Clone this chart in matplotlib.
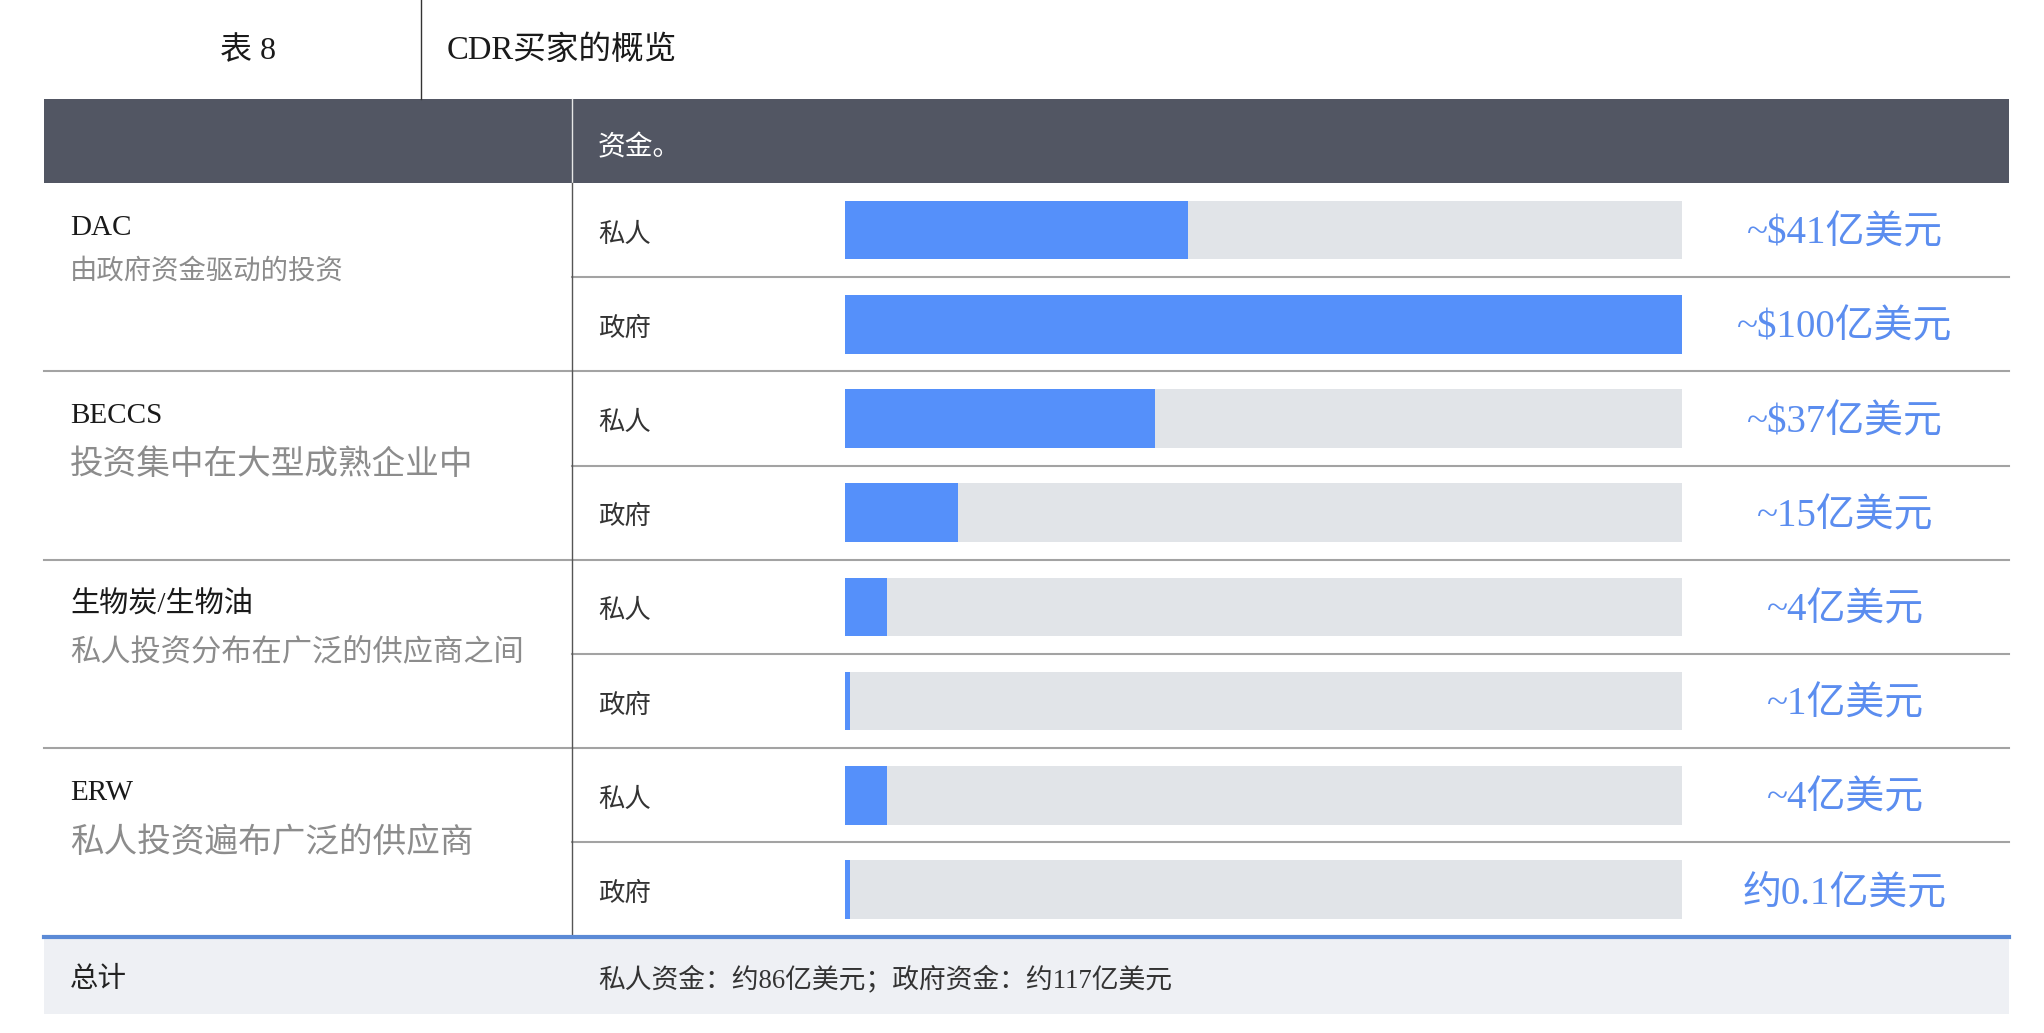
import matplotlib
matplotlib.use("Agg")
import matplotlib.pyplot as plt
from matplotlib.patches import Rectangle

# data
table_no    = "表 8"
title       = "CDR买家的概览"
col_header  = "资金。"
groups      = ["DAC", "BECCS", "生物炭/生物油", "ERW"]
group_notes = ["由政府资金驱动的投资", "投资集中在大型成熟企业中",
               "私人投资分布在广泛的供应商之间", "私人投资遍布广泛的供应商"]
row_kinds   = ["私人", "政府"] * 4
bar_pct     = [41, 100, 37, 13.5, 5, 0.6, 5, 0.6]   # bar fill, % of track
value_text  = ["~$41亿美元", "~$100亿美元", "~$37亿美元", "~15亿美元",
               "~4亿美元", "~1亿美元", "~4亿美元", "约0.1亿美元"]
total_label = "总计"
total_text  = "私人资金：约86亿美元；政府资金：约117亿美元"

# style
W, H       = 2044, 1033
SERIF_CJK  = ["Liberation Serif", "Noto Sans CJK SC"]
CJK        = ["Noto Sans CJK SC", "DejaVu Sans"]
DARK       = "#525663"
BLUE       = "#5590fa"
TRACK      = "#e1e4e8"
VAL_BLUE   = "#5b8def"
SEP        = "#a3a3a3"
NOTE_GREY  = "#8c8c8c"
note_sizes = [19.7, 24.2, 21.8, 24.2]
note_dy    = [88, 93, 92, 94]
DY         = 4   # nudge text down to sit like the reference

left, right  = 44, 2009
mid_x        = 572
head_top     = 99
head_bot     = 183
row_h        = 94.2
table_bot    = head_bot + row_h * len(bar_pct)
total_bot    = 1014
bar_l, bar_r = 845, 1682

fig = plt.figure(figsize=(W / 100, H / 100), dpi=100)
ax = fig.add_axes([0, 0, 1, 1])
ax.set_xlim(0, W)
ax.set_ylim(H, 0)
ax.axis("off")

# title row
ax.text(248, 47 + DY, table_no, family=SERIF_CJK, fontsize=23, ha="center", va="center",
        color="#1a1a1a", fontweight="light")
ax.plot([421, 421], [0, head_top], color="#333333", lw=1)
ax.text(447, 47 + DY, title, family=SERIF_CJK, fontsize=23.5, ha="left", va="center",
        color="#1a1a1a", fontweight="light")

# header band
ax.add_patch(Rectangle((left, head_top), right - left, head_bot - head_top, color=DARK, lw=0))
ax.plot([mid_x, mid_x], [head_top, head_bot], color="#e6e6e6", lw=1)
ax.text(598, 143 + DY, col_header, family=CJK, fontsize=20, ha="left", va="center",
        color="white", fontweight="light")

# row lines and labels
for i, kind in enumerate(row_kinds):
    y0 = head_bot + i * row_h
    ax.text(598, y0 + row_h / 2 + DY, kind, family=CJK, fontsize=19, ha="left", va="center",
            color="#333333", fontweight="light")
    if i > 0:
        x0 = left if i % 2 == 0 else mid_x
        ax.plot([x0, right], [y0, y0], color=SEP, lw=1.5)

for g, (name, note) in enumerate(zip(groups, group_notes)):
    y0 = head_bot + g * 2 * row_h
    ax.text(70, y0 + 41 + DY, name, family=SERIF_CJK, fontsize=21, ha="left", va="center",
            color="#1a1a1a", fontweight="light")
    ax.text(70, y0 + note_dy[g], note, family=CJK, fontsize=note_sizes[g], ha="left", va="center",
            color=NOTE_GREY, fontweight="light")

ax.plot([mid_x, mid_x], [head_bot, table_bot], color="#555555", lw=1)

# total row
ax.add_patch(Rectangle((left, table_bot), right - left, total_bot - table_bot, color="#eef0f4", lw=0))
ax.plot([left, right], [table_bot, table_bot], color="#5b8ad6", lw=3)
ax.text(70, (table_bot + total_bot) / 2 + DY, total_label, family=CJK, fontsize=20.5,
        ha="left", va="center", color="#222222", fontweight="light")
ax.text(598, (table_bot + total_bot) / 2 + DY, total_text, family=SERIF_CJK, fontsize=19.3,
        ha="left", va="center", color="#333333", fontweight="light")

# bars
bax = fig.add_axes([bar_l / W, 1 - table_bot / H, (bar_r - bar_l) / W, (table_bot - head_bot) / H])
bax.set_xlim(0, 100)
bax.set_ylim(len(bar_pct) - 0.5, -0.5)
bax.axis("off")
rows = range(len(bar_pct))
bax.barh(rows, [100] * len(bar_pct), height=0.62, color=TRACK, lw=0)
bax.barh(rows, bar_pct, height=0.62, color=BLUE, lw=0)
label_x = 100 * (1845 - bar_l) / (bar_r - bar_l)
for i, txt in enumerate(value_text):
    bax.text(label_x, i + DY / row_h, txt, family=SERIF_CJK, fontsize=28, ha="center", va="center",
             color=VAL_BLUE, clip_on=False, fontweight="light")

fig.savefig("out.png", dpi=100)
